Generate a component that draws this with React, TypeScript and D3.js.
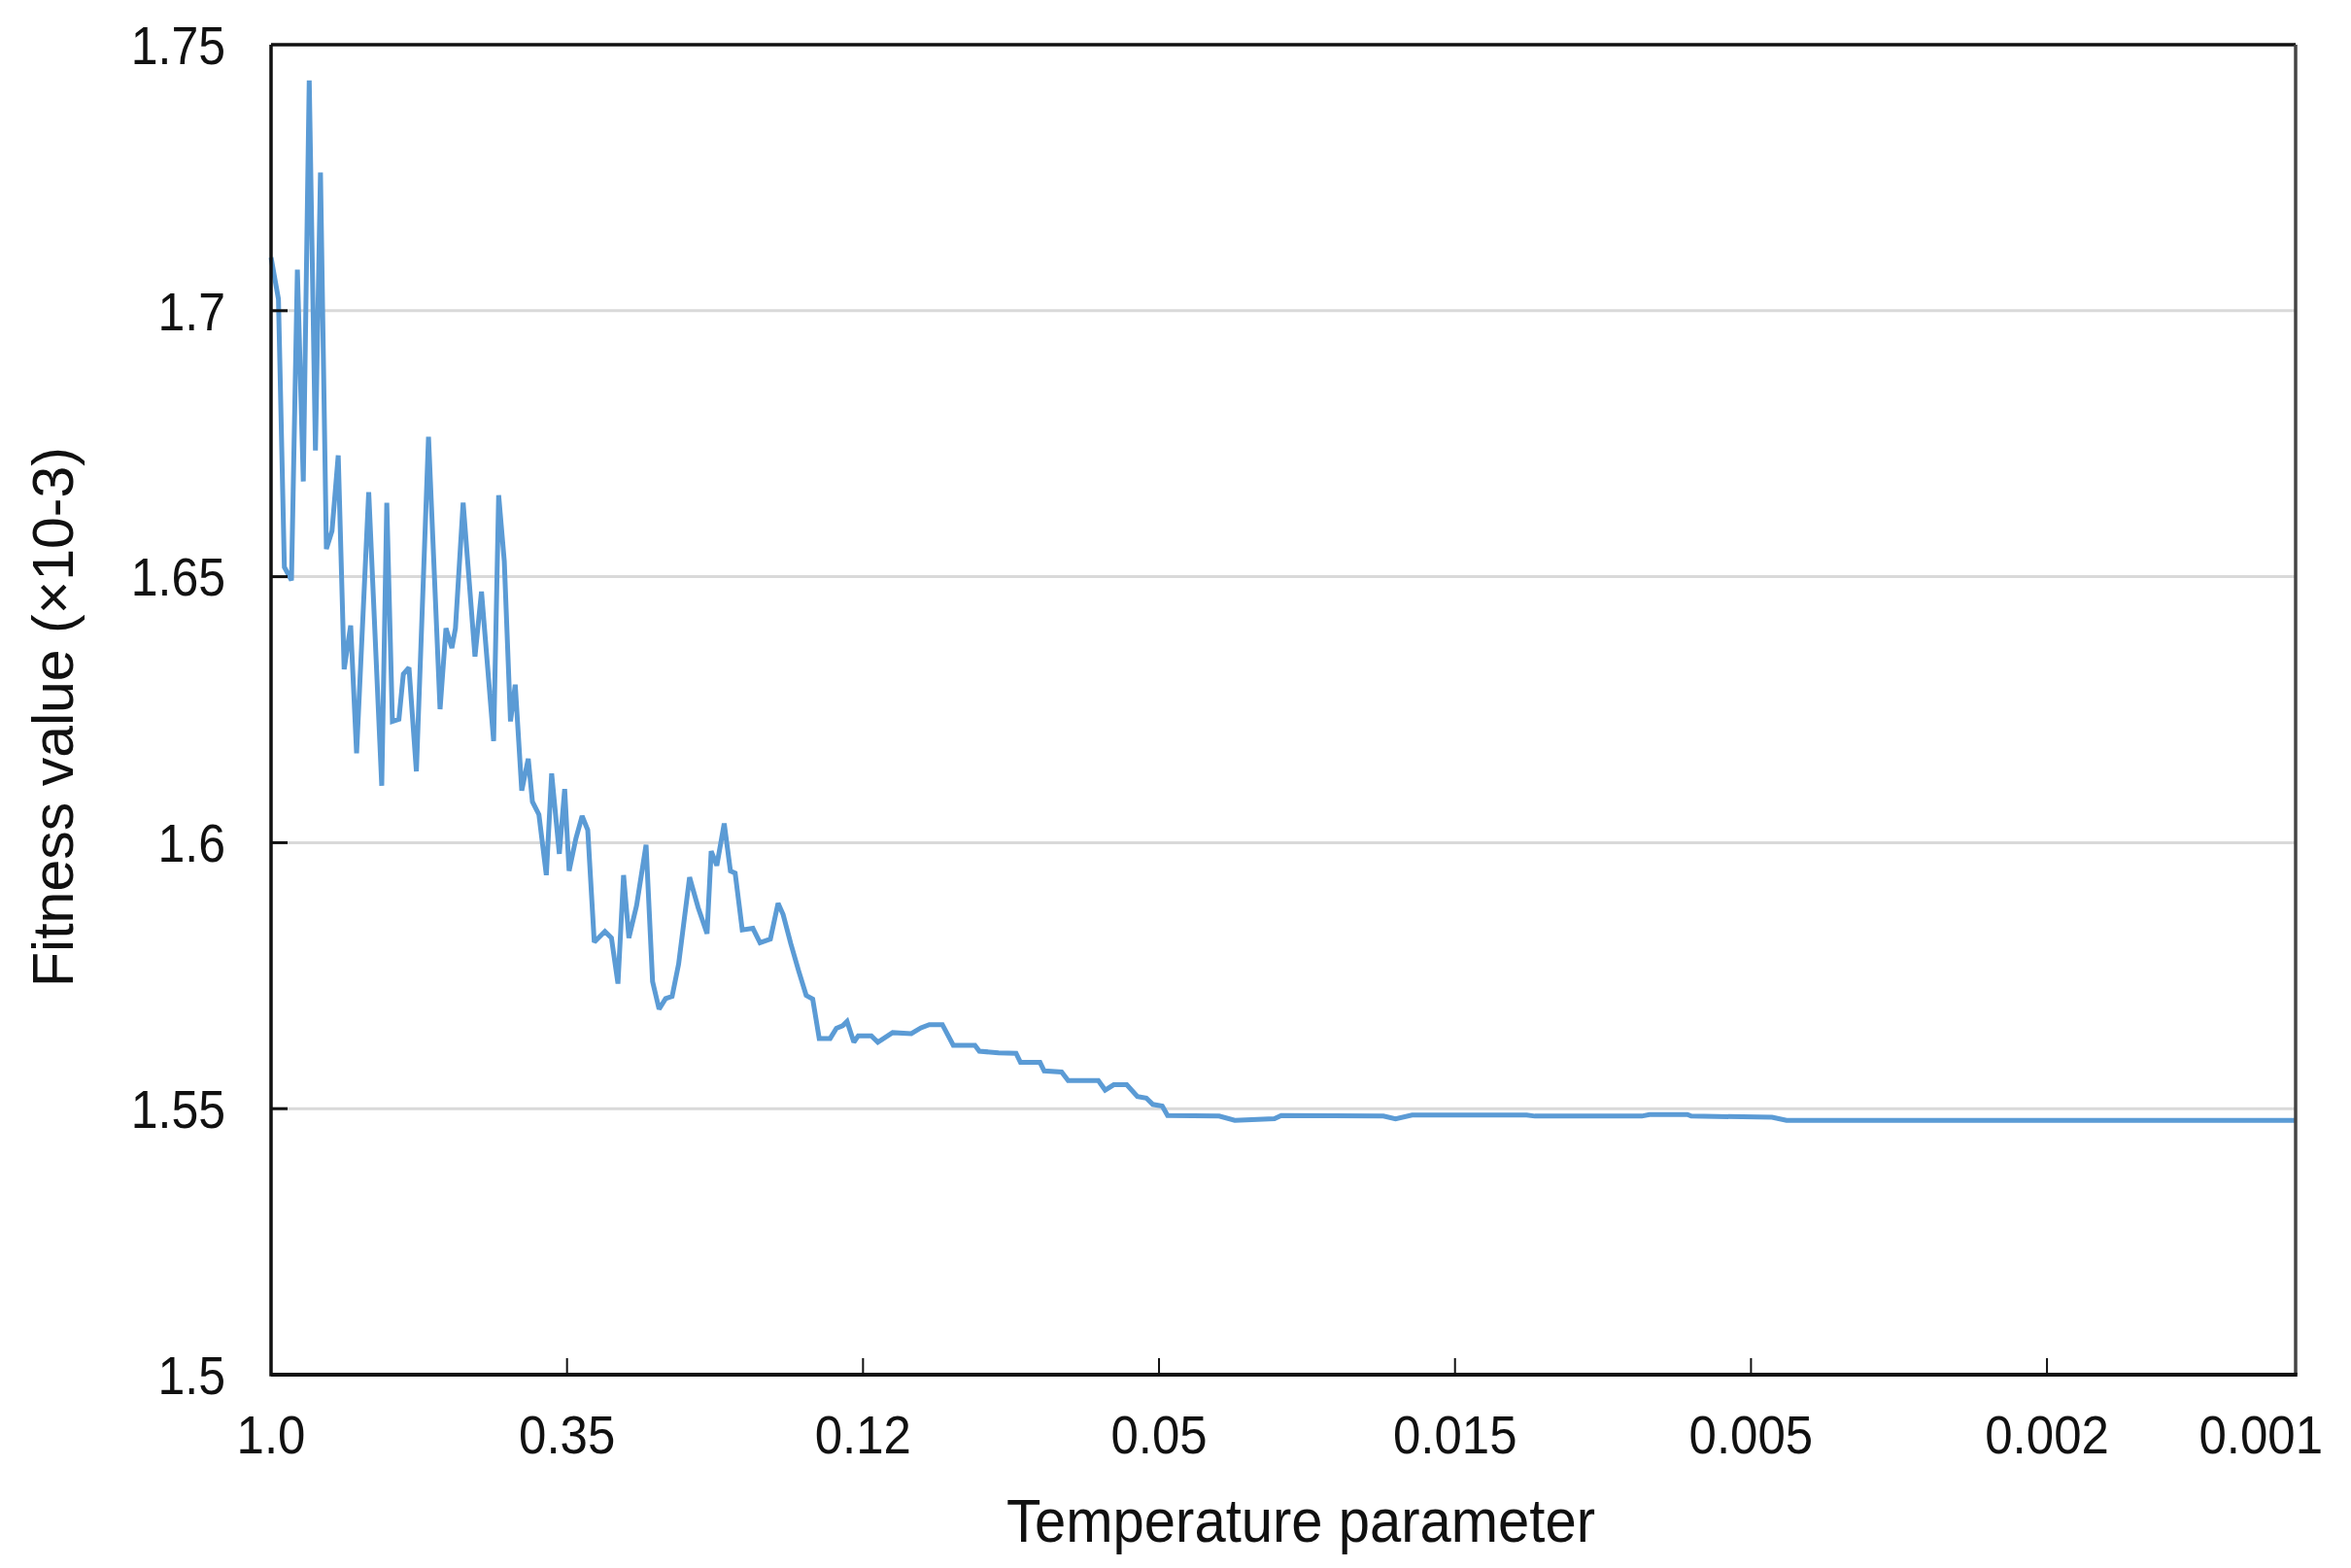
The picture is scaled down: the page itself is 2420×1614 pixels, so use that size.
import React from 'react';
import * as d3 from 'd3';

// Iteration index (x) and fitness value (×10^-3) of the annealing run
const iterations = [
  0, 2.5, 4.5, 6.9, 8.9, 10.9, 12.9, 15.0, 16.7, 18.7, 20.6, 22.7, 24.7, 26.9,
  28.9, 33.0, 37.4, 39.1, 41.0, 43.2, 44.7, 46.6, 49.1, 53.2, 57.1, 59.1, 61.1, 62.3,
  64.9, 68.9, 71.1, 75.2, 76.9, 78.8, 80.9, 82.5, 84.7, 86.9, 88.3, 90.5, 93.0, 94.8,
  97.4, 99.2, 100.7, 103.0, 105.1, 107.0, 109.2, 112.8, 115.0, 117.2, 119.1, 120.9,
  123.5, 126.7, 128.9, 131.1, 133.3, 135.5, 137.7, 141.4, 144.3, 147.3, 148.7, 150.6,
  153.1, 155.2, 156.8, 159.2, 162.8, 165.2, 168.7, 171.3, 173.0, 175.6, 178.2, 180.8,
  183.0, 185.2, 188.9, 191.0, 193.1, 194.6, 196.9, 198.4, 202.8, 205.0, 210.0, 216.3,
  219.6, 222.4, 226.8, 230.5, 237.8, 239.3, 245.8, 251.7, 253.2, 259.8, 261.2, 267.1,
  269.3, 279.5, 281.8, 284.7, 289.1, 292.7, 295.7, 297.9, 301.1, 302.9, 320.3, 325.6,
  339.0, 341.3, 375.8, 379.9, 385.5, 424.2, 427.0, 463.1, 465.7, 478.5, 479.8, 507.1,
  512.0, 684,
];
const fitness = [
  1.7100, 1.7022, 1.6518, 1.6493, 1.7077, 1.6679, 1.7433, 1.6737, 1.7260, 1.6552, 1.6586, 1.6728, 1.6326, 1.6408,
  1.6168, 1.6659, 1.6107, 1.6639, 1.6228, 1.6232, 1.6317, 1.6329, 1.6134, 1.6763, 1.6251, 1.6403, 1.6366, 1.6403,
  1.6639, 1.6350, 1.6472, 1.6191, 1.6653, 1.6529, 1.6228, 1.6297, 1.6098, 1.6158, 1.6077, 1.6053, 1.5939, 1.6130,
  1.5979, 1.6101, 1.5947, 1.6008, 1.6050, 1.6024, 1.5813, 1.5833, 1.5821, 1.5735, 1.5939, 1.5821,
  1.5882, 1.5996, 1.5739, 1.5687, 1.5707, 1.5711, 1.5772, 1.5935, 1.5878, 1.5829, 1.5984, 1.5957,
  1.6036, 1.5947, 1.5943, 1.5836, 1.5839, 1.5812, 1.5819, 1.5886, 1.5865, 1.5810, 1.5760, 1.5713,
  1.5706, 1.5632, 1.5632, 1.5651, 1.5656, 1.5664, 1.5625, 1.5637, 1.5637, 1.5625, 1.5643, 1.5641,
  1.5652, 1.5658, 1.5658, 1.5619, 1.5619, 1.5608, 1.5605, 1.5604, 1.5587, 1.5587, 1.5571, 1.5569,
  1.5553, 1.5553, 1.5535, 1.5545, 1.5545, 1.5523, 1.5520, 1.5508, 1.5505, 1.5487, 1.5486, 1.5478,
  1.5481, 1.5487, 1.5486, 1.5481, 1.5488, 1.5488, 1.5486, 1.5486, 1.5489, 1.5489, 1.5486, 1.5484,
  1.5478, 1.5478,
];

const yTicks = [1.5, 1.55, 1.6, 1.65, 1.7, 1.75];
const yTickLabels = ['1.5', '1.55', '1.6', '1.65', '1.7', '1.75'];
const xTickIters = [0, 100, 200, 300, 400, 500, 600, 684];
const xTickLabels = ['1.0', '0.35', '0.12', '0.05', '0.015', '0.005', '0.002', '0.001'];

const FONT = '"Liberation Sans", Arial, Helvetica, sans-serif';

export default function App() {
  const W = 2420;
  const H = 1614;
  const left = 279;
  const right = 2363;
  const top = 46;
  const bottom = 1415;

  const x = d3.scaleLinear().domain([0, 684]).range([left, right]);
  const y = d3.scaleLinear().domain([1.5, 1.75]).range([bottom, top]);

  const lineGen = d3
    .line<number>()
    .x((_, i) => x(iterations[i]))
    .y((d) => y(d));
  const pathD = lineGen(fitness) || '';

  return (
    <svg
      width={W}
      height={H}
      viewBox={`0 0 ${W} ${H}`}
      style={{ position: 'absolute', left: 0, top: 0, display: 'block', background: '#fff' }}
    >
      <rect x={0} y={0} width={W} height={H} fill="#ffffff" />
      {/* gridlines */}
      {yTicks.slice(1, -1).map((t) => (
        <line key={'g' + t} x1={left} x2={right} y1={y(t)} y2={y(t)} stroke="#d9d9d9" strokeWidth={3} />
      ))}
      {/* data line */}
      <path d={pathD} fill="none" stroke="#5b9bd5" strokeWidth={5} strokeLinejoin="miter" strokeMiterlimit={2} strokeLinecap="butt" />
      {/* frame */}
      <line x1={left} x2={right} y1={top} y2={top} stroke="#111" strokeWidth={3.5} />
      <line x1={right} x2={right} y1={top} y2={bottom} stroke="#444" strokeWidth={3.5} />
      <line x1={left} x2={left} y1={top} y2={bottom + 1.75} stroke="#111" strokeWidth={3.5} />
      <line x1={left} x2={right + 1.75} y1={bottom} y2={bottom} stroke="#111" strokeWidth={4} />
      {/* y ticks (inward) */}
      {yTicks.slice(1, -1).map((t) => (
        <line key={'yt' + t} x1={left} x2={left + 17} y1={y(t)} y2={y(t)} stroke="#111" strokeWidth={3} />
      ))}
      {/* x ticks (inward) */}
      {xTickIters.slice(1, -1).map((t) => (
        <line key={'xt' + t} x1={x(t)} x2={x(t)} y1={bottom} y2={bottom - 17} stroke="#111" strokeWidth={2} />
      ))}
      {/* y tick labels */}
      {yTicks.map((t, i) => (
        <text
          key={'yl' + t}
          transform={`translate(232, ${y(t)}) scale(1, 1.1)`}
          dy="0.36em"
          textAnchor="end"
          fontFamily={FONT}
          fontSize={50}
          fill="#111"
        >
          {yTickLabels[i]}
        </text>
      ))}
      {/* x tick labels */}
      {xTickIters.map((t, i) => {
        const last = i === xTickIters.length - 1;
        return (
          <text
            key={'xl' + t}
            transform={`translate(${last ? x(t) + 28 : x(t)}, 1496) scale(1, 1.1)`}
            textAnchor={last ? 'end' : 'middle'}
            fontFamily={FONT}
            fontSize={51}
            fill="#111"
          >
            {xTickLabels[i]}
          </text>
        );
      })}
      {/* axis titles */}
      <text
        transform="translate(1339, 1587) scale(1, 1.1)"
        textAnchor="middle"
        fontFamily={FONT}
        fontSize={58}
        fill="#111"
      >
        Temperature parameter
      </text>
      <text
        transform={`translate(75, 738) rotate(-90)`}
        textAnchor="middle"
        fontFamily={FONT}
        fontSize={59}
        fill="#111"
      >
        Fitness value (×10-3)
      </text>
    </svg>
  );
}
